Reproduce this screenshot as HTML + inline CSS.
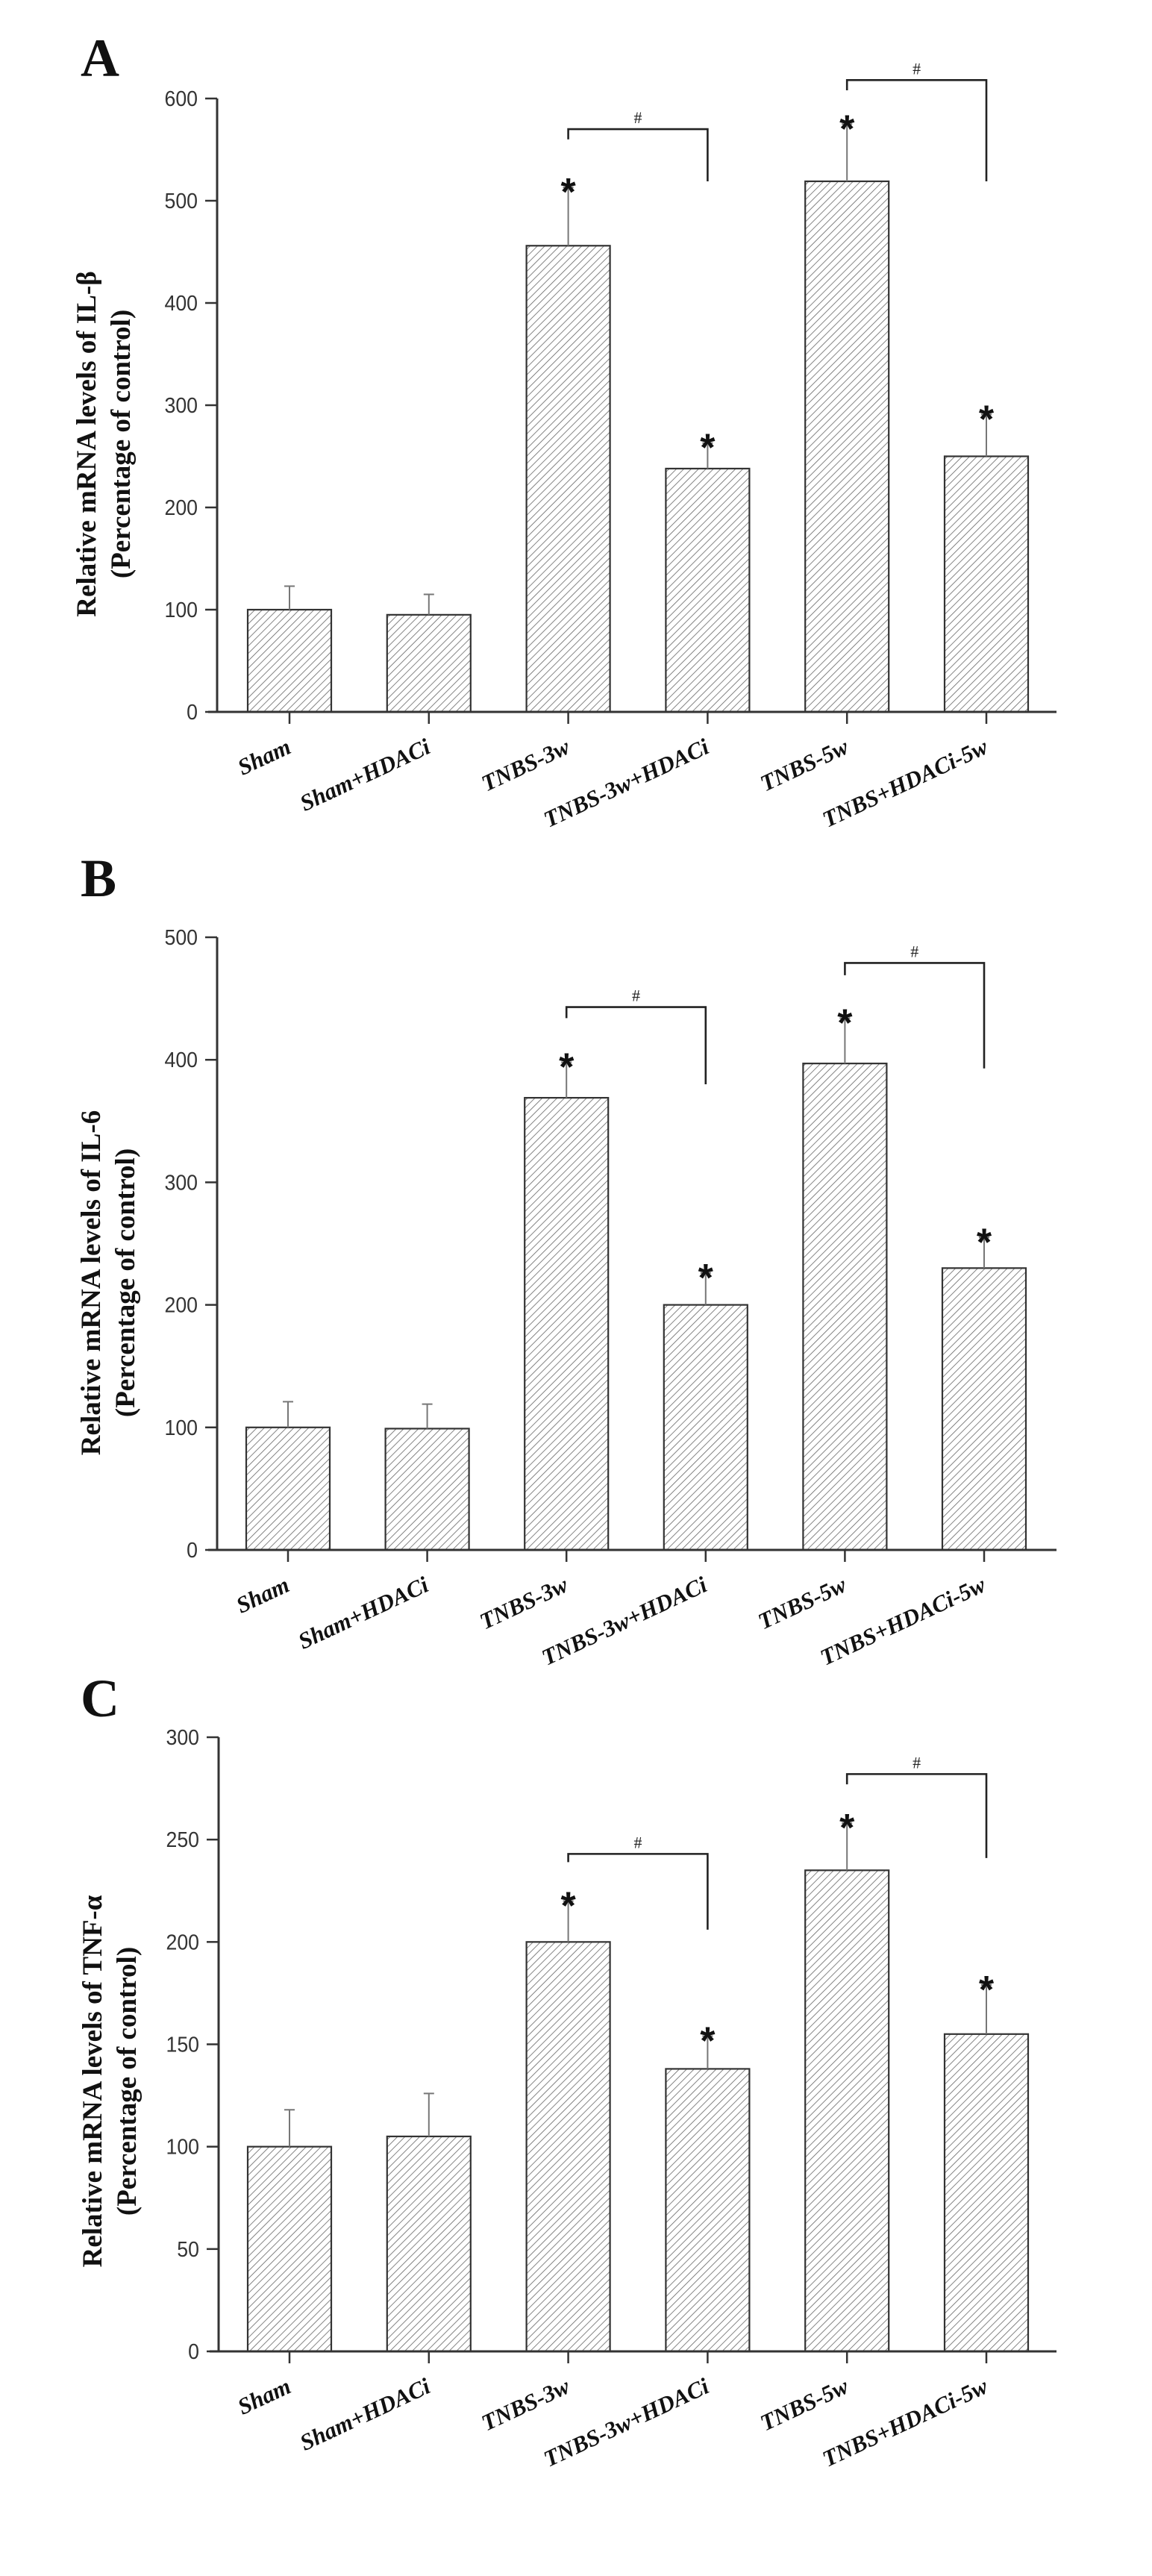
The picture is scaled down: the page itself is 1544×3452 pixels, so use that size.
<!DOCTYPE html>
<html><head><meta charset="utf-8"><style>
html,body{margin:0;padding:0;background:#fff;}
svg{display:block;}
</style></head>
<body>
<svg id="fig" xmlns="http://www.w3.org/2000/svg" width="1544" height="3452" viewBox="0 0 1544 3452">
<defs>
<pattern id="hatch" patternUnits="userSpaceOnUse" width="7" height="7" patternTransform="rotate(45)">
<rect width="7" height="7" fill="#fff"/>
<line x1="0" y1="0" x2="0" y2="7" stroke="#666" stroke-width="1.6"/>
</pattern>
</defs>
</svg>
<script>
const categories = ["Sham","Sham+HDACi","TNBS-3w","TNBS-3w+HDACi","TNBS-5w","TNBS+HDACi-5w"];
const categoriesB = ["Sham","Sham+HDACi","TNBS-3w","TNBS-3w+HDACi","TNBS-5w","TNBS+HDACi-5w"];
const valuesA = [100,95,456,238,519,250];
const errorsA = [123,115,513,263,575,291];
const ticksA = [0,100,200,300,400,500,600];
const valuesB = [100,99,369,200,397,230];
const errorsB = [121,119,398,226,434,255];
const ticksB = [0,100,200,300,400,500];
const valuesC = [100,105,200,138,235,155];
const errorsC = [118,126,220,154,258,179];
const ticksC = [0,50,100,150,200,250,300];
const starsIdx = [2,3,4,5];
// brackets: [leftIdx, rightIdx, topValue, leftLegEnd, rightLegEnd]
const bracketsA = [[2,3,570,560,519],[4,5,618,608,519]];
const bracketsB = [[2,3,443,434,380],[4,5,479,469,393]];
const bracketsC = [[2,3,243,239,206],[4,5,282,277,241]];

const NS = "http://www.w3.org/2000/svg";
const svg = document.getElementById('fig');
function mk(tag, attrs, parent, text){
  const e = document.createElementNS(NS, tag);
  for (const k in attrs) e.setAttribute(k, attrs[k]);
  if (text !== undefined) e.textContent = text;
  (parent || svg).appendChild(e);
  return e;
}

function drawChart(cfg){
  const g = mk('g', {});
  
  
  const x0 = cfg.axisX, yBase = cfg.y0, yTop = cfg.yTop;
  const vmax = cfg.ticks[cfg.ticks.length-1];
  const yS = v => yBase - (v / vmax) * (yBase - yTop);
  const xS = i => cfg.first + i * cfg.step;
  const bw = 112;

  const L = mk('text', {x:108, y:cfg.letterY, 'font-family':'"Liberation Serif", serif', 'font-weight':'bold', 'font-size':72, fill:'#111'}, g, cfg.letter);
  
  

  cfg.values.forEach((v, i) => {
    const r = mk('rect', {x:xS(i)-bw/2, y:yS(v), width:bw, height:yBase-yS(v), fill:'url(#hatch)', stroke:'#333', 'stroke-width':2.2}, g);
    
    
    const e = mk('path', {d:`M${xS(i)} ${yS(v)} V${yS(cfg.errors[i])} M${xS(i)-7} ${yS(cfg.errors[i])} H${xS(i)+7}`, stroke:'#777', 'stroke-width':2, fill:'none'}, g);
    
    
  });
  starsIdx.forEach(i => {
    const s = mk('text', {x:xS(i), y:yS(cfg.errors[i]) + 24, 'text-anchor':'middle', 'font-family':'"Liberation Sans", sans-serif', 'font-weight':'bold', 'font-size':52, fill:'#111'}, g, '*');
    
    
  });
  cfg.brackets.forEach(b => {
    const xl = xS(b[0]), xr = xS(b[1]);
    const p = mk('path', {d:`M${xl} ${yS(b[3])} V${yS(b[2])} H${xr} V${yS(b[4])}`, stroke:'#222', 'stroke-width':2.6, fill:'none'}, g);
    
    
    const h = mk('text', {x:(xl+xr)/2, y:yS(b[2]) - 8, 'text-anchor':'middle', 'font-family':'"Liberation Serif", serif', 'font-size':22, fill:'#222'}, g, '#');
    
    
  });

  const ya = mk('path', {d:`M${x0} ${yTop} V${yBase}`, stroke:'#333', 'stroke-width':3, fill:'none'}, g);
  
  
  const xa = mk('path', {d:`M${x0-12} ${yBase} H${1416}`, stroke:'#333', 'stroke-width':3, fill:'none'}, g);
  
  
  cfg.ticks.forEach(t => {
    const tk = mk('path', {d:`M${x0-16} ${yS(t)} H${x0}`, stroke:'#333', 'stroke-width':2.5}, g);
    
    
    const tl = mk('text', {x:x0-26, y:yS(t)+10, 'text-anchor':'end', 'font-family':'"Liberation Sans", sans-serif', 'font-size':29, fill:'#333', transform:`translate(${x0-26} 0) scale(0.92 1) translate(${-(x0-26)} 0)`}, g, String(t));
    
    
  });
  cfg.cats.forEach((c, i) => {
    const tk = mk('path', {d:`M${xS(i)} ${yBase} V${yBase+16}`, stroke:'#333', 'stroke-width':2.5}, g);
    
    
    const ax = xS(i) + 4, ay = yBase + 54;
    const tl = mk('text', {x:ax, y:ay, 'text-anchor':'end', 'font-family':'"Liberation Serif", serif', 'font-weight':'bold', 'font-style':'italic', 'font-size':31, fill:'#111', transform:`rotate(-25 ${ax} ${ay})`}, g, c);
    
    
  });
  const cy = cfg.titleY;
  const t1 = mk('text', {x:0, y:0, 'text-anchor':'middle', 'font-family':'"Liberation Serif", serif', 'font-weight':'bold', 'font-size':37, fill:'#111', transform:`translate(${cfg.titleX} ${cy}) rotate(-90)`}, g, cfg.title);
  
  
  const t2 = mk('text', {x:0, y:0, 'text-anchor':'middle', 'font-family':'"Liberation Serif", serif', 'font-weight':'bold', 'font-size':37, fill:'#111', transform:`translate(${cfg.titleX+46} ${cy}) rotate(-90)`}, g, '(Percentage of control)');
  
  
}

drawChart({name:'chart-il-beta', letter:'A', letterY:102, axisX:291, y0:954, yTop:132, first:388, step:186.8,
  cats:categories, values:valuesA, errors:errorsA, ticks:ticksA, brackets:bracketsA,
  title:'Relative mRNA levels of IL-β', titleX:128, titleY:595});
drawChart({name:'chart-il-6', letter:'B', letterY:1201, axisX:291, y0:2077, yTop:1256, first:386, step:186.6,
  cats:categoriesB, values:valuesB, errors:errorsB, ticks:ticksB, brackets:bracketsB,
  title:'Relative mRNA levels of IL-6', titleX:134, titleY:1719});
drawChart({name:'chart-tnf-alpha', letter:'C', letterY:2300, axisX:293, y0:3151, yTop:2328, first:388, step:186.8,
  cats:categories, values:valuesC, errors:errorsC, ticks:ticksC, brackets:bracketsC,
  title:'Relative mRNA levels of TNF-α', titleX:136, titleY:2789});
</script>
</body></html>
